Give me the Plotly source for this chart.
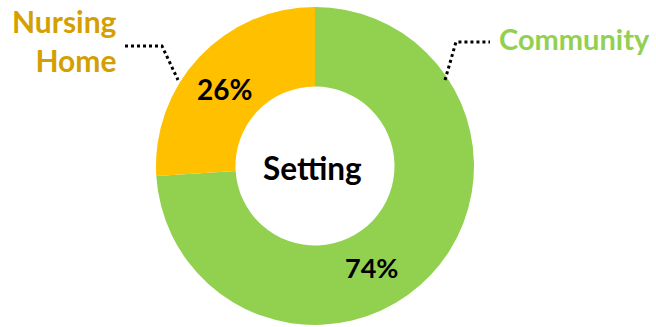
import plotly.graph_objects as go

categories = ["Community", "Nursing Home"]
values = [74, 26]
colors = ["#92D050", "#FFC000"]
label_colors = ["#92D050", "#D49F00"]
center_title = "Setting"

W, H = 656, 327
cx, cy, R = 315, 166, 159

fig = go.Figure(go.Pie(
    labels=categories,
    values=values,
    hole=0.5,
    sort=False,
    direction="clockwise",
    rotation=0,
    marker=dict(colors=colors, line=dict(color="white", width=0)),
    textinfo="none",
    hoverinfo="label+percent",
    showlegend=False,
    domain=dict(x=[(cx - R) / W, (cx + R) / W], y=[(H - cy - R) / H, (H - cy + R) / H]),
))

FONT = "Lato"
total = sum(values)
pct = [f"{round(v / total * 100)}%" for v in values]

def px(x):
    return x / W

def py(y):
    return 1 - y / H

annotations = [
    dict(text=f"<b>{center_title}</b>", x=px(312), y=py(168), showarrow=False,
         font=dict(family=FONT, size=31.5, color="black"), xanchor="center", yanchor="middle"),
    dict(text=f"<b>{pct[0]}</b>", x=px(371), y=py(267), showarrow=False,
         font=dict(family=FONT, size=27, color="black"), xanchor="center", yanchor="middle"),
    dict(text=f"<b>{pct[1]}</b>", x=px(224), y=py(89), showarrow=False,
         font=dict(family=FONT, size=28, color="black"), xanchor="center", yanchor="middle"),
    dict(text=f"<b>{categories[0]}</b>", x=px(497), y=py(38), showarrow=False,
         font=dict(family=FONT, size=29, color=label_colors[0]), xanchor="left", yanchor="middle"),
    dict(text="<b>Nursing<br>Home</b>", x=px(119), y=py(41), showarrow=False, align="right",
         font=dict(family=FONT, size=30, color=label_colors[1]), xanchor="right", yanchor="middle"),
]

shapes = [
    dict(type="path", xref="paper", yref="paper",
         path=f"M {px(125)} {py(46)} L {px(162)} {py(46)} L {px(178)} {py(80)}",
         line=dict(color="black", width=3, dash="dot")),
    dict(type="path", xref="paper", yref="paper",
         path=f"M {px(445)} {py(80)} L {px(456)} {py(42)} L {px(490)} {py(42)}",
         line=dict(color="black", width=3, dash="dot")),
]

fig.update_layout(
    width=W, height=H,
    margin=dict(l=0, r=0, t=0, b=0),
    paper_bgcolor="white", plot_bgcolor="white",
    annotations=annotations,
    shapes=shapes,
    font=dict(family=FONT),
)

fig.write_html("out.html", config={"displayModeBar": False},
               post_script="document.body.style.margin='0';")
